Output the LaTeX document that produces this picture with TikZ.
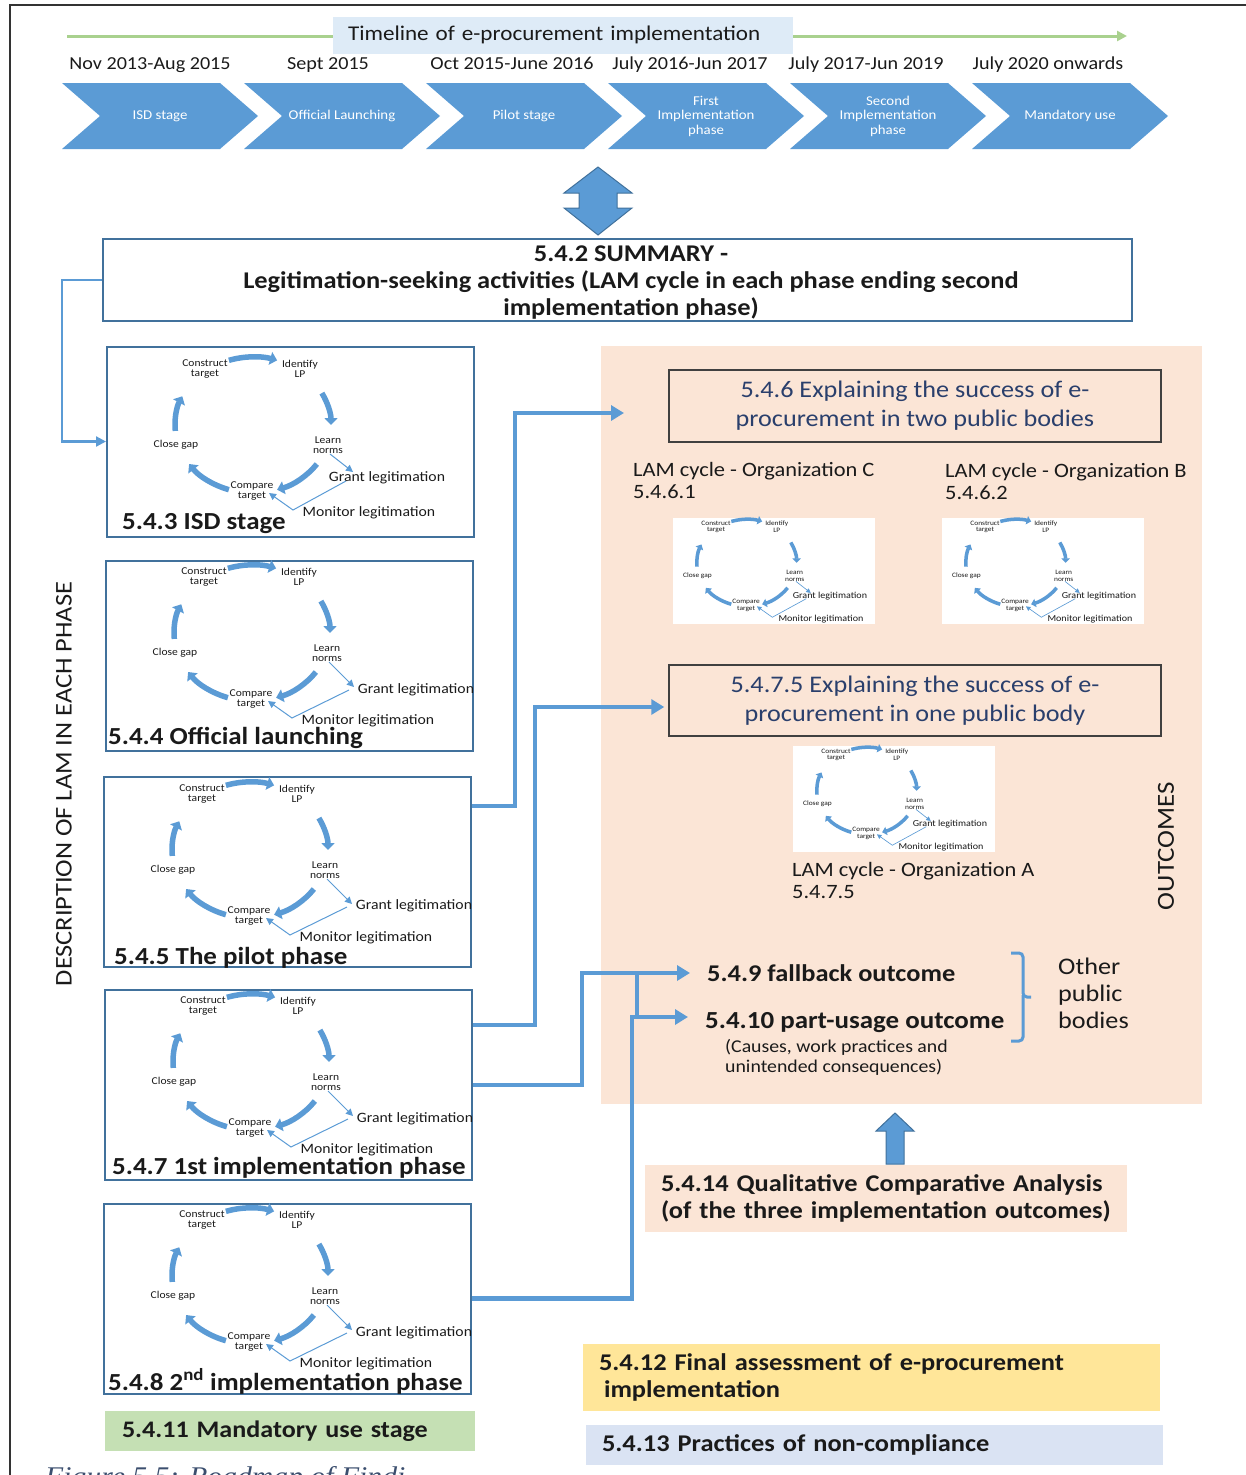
\documentclass[tikz,border=0pt]{standalone}
\usepackage{fontspec}
\setmainfont{Carlito}[FakeStretch=1.1]
\newfontfamily\capfont{Liberation Serif}[FakeStretch=1.1]
\usetikzlibrary{arrows.meta,calc}

\definecolor{cblue}{HTML}{5B9BD5}
\definecolor{cdark}{HTML}{41719C}
\definecolor{cgreen}{HTML}{A9D18E}
\definecolor{ctitle}{HTML}{DEEBF7}
\definecolor{cpeach}{HTML}{FBE5D6}
\definecolor{cyellow}{HTML}{FFE699}
\definecolor{clav}{HTML}{DAE3F3}
\definecolor{cgreenbox}{HTML}{C5E0B4}
\definecolor{cnavy}{HTML}{2A3F6C}
\definecolor{ctext}{HTML}{1A1A1A}
\definecolor{cframe}{HTML}{333333}
\definecolor{cboxline}{HTML}{404040}
\definecolor{ccap}{HTML}{3B4E6E}

\newcommand\fs[2]{\fontsize{#1}{#2}\selectfont}

\tikzset{
  chevtext/.style={text=white, font=\fs{13.5}{14.5}, align=center, inner sep=0pt},
  datetext/.style={font=\fs{18.3}{20}, text=ctext, inner sep=0pt, anchor=base},
  lambox/.style={draw=cdark, line width=2pt, minimum width=367pt, minimum height=190pt, inner sep=0pt},
  boxtitle/.style={anchor=base west, font=\bfseries\fs{24.5}{27}, text=ctext, inner sep=0pt},
  cyclbl/.style={font=\fs{10.5}{10.5}, align=center, inner sep=0pt, text=ctext},
  legit/.style={font=\fs{14.3}{15}, inner sep=0pt, text=ctext},
  conn/.style={cblue, line width=4.5pt, -{Triangle[length=13pt,width=15pt]}},
  sectbox/.style={draw=cboxline, line width=1.5pt, minimum width=492pt, minimum height=71pt,
    align=center, text=cnavy, font=\fs{23.8}{29}},
  lamlbl/.style={anchor=base west, align=left, font=\fs{20.4}{22}, text=ctext, inner sep=0pt},
  bold24/.style={font=\bfseries\fs{24}{27}, text=ctext},
  blockarrow/.style={fill=cblue, draw=cdark, line width=1pt},
}

% LAM cycle: #1 name prefix, #2 origin, #3 scale, #4 grant label centre,
% #5 end of the learn->grant arrow, #6 start of the grant->compare line
\newcommand\lamcycle[6]{%
\begin{scope}[shift={(#2)}, scale=#3, transform shape]
  \pgfmathsetlengthmacro\cyclw{#3*5.5pt}
  \pgfmathsetlengthmacro\cyctl{#3*7pt}
  \pgfmathsetlengthmacro\cyctw{#3*13pt}
  \pgfmathsetlengthmacro\cycthin{#3*1pt}
  \pgfmathsetlengthmacro\cycsl{#3*7pt}
  \pgfmathsetlengthmacro\cycsw{#3*7pt}
  \node[cyclbl] (#1-con) at (0,0) {Construct\\target};
  \node[cyclbl] (#1-idf) at (95,0) {Identify\\LP};
  \node[cyclbl] (#1-lrn) at (123,76) {Learn\\norms};
  \node[cyclbl] (#1-cmp) at (47,122) {Compare\\target};
  \node[cyclbl] (#1-cls) at (-29,76) {Close gap};
  \node[legit] (#1-grt) at (#4) {Grant legitimation};
  \node[legit] (#1-mon) at (164,144) {Monitor legitimation};
  \foreach \a/\b in {-108/-72,-28/0,35/72,108/145,175/205}
    \draw[cblue, line width=\cyclw, -{Triangle[length=\cyctl, width=\cyctw]}]
      (48,56) ++(\a:78 and 68) arc[start angle=\a, end angle=\b, x radius=78, y radius=68];
  \coordinate (#1-la) at (#5);
  \coordinate (#1-ms) at (#6);
  \coordinate (#1-mv) at (88,141);
  \coordinate (#1-ce) at (64,124);
  \draw[cblue, line width=\cycthin, -{Triangle[length=\cycsl, width=\cycsw]}] (125,85) -- (#1-la);
  \draw[cblue, line width=\cycthin, -{Triangle[length=\cycsl, width=\cycsw]}] (#1-ms) -- (#1-mv) -- (#1-ce);
\end{scope}}

\begin{document}
\begin{tikzpicture}[x=1pt,y=-1pt]
\useasboundingbox (0,0) rectangle (1246,1475);
\clip (0,0) rectangle (1246,1475);

% page frame
\draw[cframe, line width=1.5pt] (10,1480) -- (10,5) -- (1250,5);

% ---------- timeline ----------
\node[fill=ctitle, minimum width=460pt, minimum height=37pt, text width=430pt,
      inner xsep=15pt, align=left, font=\fs{21}{22}, text=ctext] (tl) at (563,35)
      {Timeline of e-procurement implementation};
\draw[cgreen, line width=3pt] (67,36) -- (333,36);
\draw[cgreen, line width=3pt, -{Triangle[length=10pt,width=10pt]}] (793,36) -- (1127,36);

\foreach \i/\d/\dx in {0/{Nov 2013-Aug 2015}/150,1/{Sept 2015}/328,2/{Oct 2015-June 2016}/512,
                       3/{July 2016-Jun 2017}/690,4/{July 2017-Jun 2019}/866,5/{July 2020 onwards}/1048}
  \node[datetext] (d\i) at (\dx,69) {\d};

\foreach \i/\lab in {0/{ISD stage},1/{Official Launching},2/{Pilot stage},
                     3/{First\\Implementation\\phase},4/{Second\\Implementation\\phase},5/{Mandatory use}}{
  \pgfmathsetmacro\xo{62+182*\i}
  \fill[cblue] (\xo,83) -- ++(158,0) -- ++(38,33) -- ++(-38,33) -- ++(-158,0) -- ++(38,-33) -- cycle;
  \node[chevtext] (ch\i) at (\xo+98,116) {\lab};
}

% double block arrow
\filldraw[blockarrow] (598,167) -- (632,193) -- (617,193) -- (617,208) -- (632,208) -- (598,235)
  -- (564,208) -- (579,208) -- (579,193) -- (564,193) -- cycle;

% ---------- summary ----------
\node[draw=cdark, line width=2pt, minimum width=1029pt, minimum height=82pt] (sum) at (617.5,280) {};
\node[font=\bfseries\fs{24}{27}, align=center, text=ctext] (sumtxt) at (631,283)
  {5.4.2 SUMMARY -\\Legitimation-seeking activities (LAM cycle in each phase ending second\\implementation phase)};

% ---------- LAM cycle boxes ----------
\node[lambox] (b1) at (290.5,441.5) {};
\node[lambox] (b2) at (289.5,655.5) {};
\node[lambox] (b3) at (287.5,872) {};
\node[lambox] (b4) at (288.5,1085) {};
\node[lambox] (b5) at (287.5,1298.5) {};

\lamcycle{c1}{205,369}{1}{182,109}{148,103}{141,112}
\lamcycle{c2}{204,577}{1}{212,113}{150,110}{145,113}
\lamcycle{c3}{202,794}{1}{212,112}{150,110}{145,113}
\lamcycle{c4}{203,1006}{1}{212,113}{150,110}{145,113}
\lamcycle{c5}{202,1220}{1}{212,113}{150,110}{145,113}

\node[boxtitle] (t1) at (122,529) {5.4.3 ISD stage};
\node[boxtitle] (t2) at (108,744) {5.4.4 Official launching};
\node[boxtitle] (t3) at (114,964) {5.4.5 The pilot phase};
\node[boxtitle] (t4) at (112,1174) {5.4.7 1st implementation phase};
\node[boxtitle] (t5) at (108,1390) {5.4.8 2\textsuperscript{nd} implementation phase};

\node[rotate=90, font=\fs{24}{26}, text=ctext] (desc) at (64,784) {DESCRIPTION OF LAM IN EACH PHASE};

\node[fill=cgreenbox, minimum width=370pt, minimum height=40pt, text width=336pt, inner xsep=17pt,
      align=left, font=\bfseries\fs{23.7}{26}, text=ctext] (mand) at (290,1431) {5.4.11 Mandatory use stage};

% ---------- outcomes area ----------
\node[fill=cpeach, minimum width=601pt, minimum height=758pt, inner sep=0pt] (outbg) at (901.5,725) {};

\node[sectbox, minimum height=72pt] (e46) at (915,406)
  {5.4.6 Explaining the success of e-\\procurement in two public bodies};
\node[lamlbl] (lc) at (633,498) {LAM cycle - Organization C\\5.4.6.1};
\node[lamlbl] (lb) at (945,499) {LAM cycle - Organization B\\5.4.6.2};
\node[fill=white, minimum width=202pt, minimum height=106pt, inner sep=0pt] (sc) at (774,571) {};
\node[fill=white, minimum width=202pt, minimum height=106pt, inner sep=0pt] (sb) at (1042.5,571) {};
\lamcycle{cc}{716,527}{0.64}{178,108}{148,103}{141,112}
\lamcycle{cb}{985,527}{0.64}{178,108}{148,103}{141,112}

\node[sectbox] (e475) at (915,700.5)
  {5.4.7.5 Explaining the success of e-\\procurement in one public body};
\node[fill=white, minimum width=202pt, minimum height=106pt, inner sep=0pt] (sa) at (894,799) {};
\lamcycle{ca}{836,755}{0.64}{178,108}{148,103}{141,112}
\node[lamlbl] (la) at (792,898) {LAM cycle - Organization A\\5.4.7.5};

\node[rotate=90, font=\fs{24.5}{28}, text=ctext] (outc) at (1166,846) {OUTCOMES};

\node[bold24, anchor=base west, inner sep=0pt] (fb) at (707,981) {5.4.9 fallback outcome};
\node[anchor=base west, inner sep=0pt, font=\bfseries\fs{24.5}{27}, text=ctext] (pu) at (705,1028) {5.4.10 part-usage outcome};
\node[anchor=base west, inner sep=0pt, align=left, font=\fs{18}{20}, text=ctext] (cause) at (725,1072)
  {(Causes, work practices and\\unintended consequences)};

% brace grouping the two outcomes
\draw[cblue, line width=3pt, rounded corners=4pt] (1011,953) -- (1023,953) -- (1023,997) -- (1031,997);
\draw[cblue, line width=3pt, rounded corners=4pt] (1023,995) -- (1023,1041) -- (1011,1041);
\node[anchor=base west, inner sep=0pt, align=left, font=\fs{23.8}{27}, text=ctext] (other) at (1058,1028)
  {Other\\public\\bodies};

% QCA and the arrow up into the outcomes
\node[fill=cpeach, minimum width=482pt, minimum height=67pt, text width=450pt, inner xsep=16pt,
      align=left, bold24] (qca) at (886,1198.5)
  {5.4.14 Qualitative Comparative Analysis\\(of the three implementation outcomes)};
\filldraw[blockarrow] (895,1113) -- (914,1131) -- (904,1131) -- (904,1164) -- (886,1164)
  -- (886,1131) -- (876,1131) -- cycle;

\node[fill=cyellow, minimum width=577pt, minimum height=67pt, text width=545pt, inner xsep=16pt,
      align=left, bold24] (fa) at (871.5,1377.5)
  {5.4.12 Final assessment of e-procurement\\\hspace*{5pt}implementation};
\node[fill=clav, minimum width=577pt, minimum height=40pt, text width=545pt, inner xsep=16pt,
      align=left, bold24] (nc) at (874.5,1445) {5.4.13 Practices of non-compliance};

% ---------- connectors ----------
\draw[cblue, line width=2.2pt, -{Triangle[length=10pt,width=10pt]}] (sum.west) -- (62,280) |- (b1.west);

\coordinate (in46) at (624,413);
\coordinate (fbin) at (690,973);
\coordinate (puin) at (688,1017);
\draw[conn] ([yshift=66pt]b3.east) -| (515,413) -- (in46);
\draw[conn, shorten >=4pt] ([yshift=60pt]b4.east) -| (535,707) -- (e475.west |- 0,707);
\draw[conn] (b4.east) -| (582,973) -- (fbin);
\draw[cblue, line width=4.5pt] (637,973) -- (637,1019);
\draw[conn] (b5.east) -| (632,1017) -- (puin);

% caption
\node[anchor=base west, inner sep=0pt, font=\capfont\itshape\fs{27}{30}, text=ccap] (cap) at (45,1485)
  {Figure 5.5: Roadmap of Findi};
\end{tikzpicture}
\end{document}
